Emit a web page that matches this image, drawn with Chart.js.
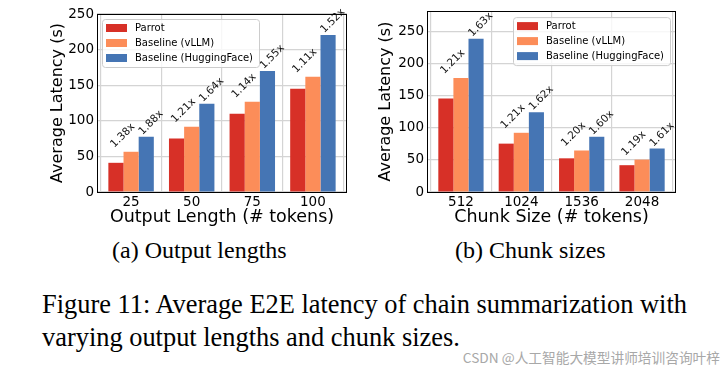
<!DOCTYPE html>
<html><head><meta charset="utf-8">
<script src="https://cdn.jsdelivr.net/npm/chart.js@4.4.1/dist/chart.umd.min.js"></script>
<style>
html,body{margin:0;padding:0;background:#fff;width:728px;height:372px;overflow:hidden;position:relative}
.c{position:absolute;top:0;width:364px;height:232px}
.cap{position:absolute;font-family:"Liberation Serif","Times New Roman",serif;color:#000;white-space:nowrap;line-height:1}
#wm{position:absolute;right:8px;top:351px;font-family:"Noto Sans CJK SC",sans-serif;font-size:13.7px;color:#a8a8a8;white-space:nowrap;line-height:1}
</style></head><body>
<div class="c" style="left:0"><canvas id="c1" width="364" height="232"></canvas></div>
<div class="c" style="left:364px"><canvas id="c2" width="364" height="232"></canvas></div>
<div class="cap" style="left:112px;top:238px;font-size:24px">(a) Output lengths</div>
<div class="cap" style="left:455px;top:238px;font-size:24px">(b) Chunk sizes</div>
<div class="cap" style="left:42px;top:291px;font-size:26.4px">Figure 11: Average E2E latency of chain summarization with</div>
<div class="cap" style="left:42px;top:324px;font-size:26.4px">varying output lengths and chunk sizes.</div>
<div id="wm">CSDN @人工智能大模型讲师培训咨询叶梓</div>
<script>
// ---- data ----
const seriesNames = ['Parrot', 'Baseline (vLLM)', 'Baseline (HuggingFace)'];
const seriesColors = ['#d73027', '#fc8d59', '#4575b4'];
const yTicks = [0, 50, 100, 150, 200, 250];

const outputLengths = ['25', '50', '75', '100'];
const outParrot = [41.0, 75.2, 109.8, 144.9];
const outVllm = [56.5, 91.6, 126.6, 161.7];
const outHF = [77.6, 123.8, 170.0, 220.6];
const outVllmSpeedup = ['1.38x', '1.21x', '1.14x', '1.11x'];
const outHFSpeedup = ['1.88x', '1.64x', '1.55x', '1.52x'];

const chunkSizes = ['512', '1024', '1536', '2048'];
const chunkParrot = [145.8, 75.4, 52.5, 41.8];
const chunkVllm = [177.9, 92.3, 64.7, 50.5];
const chunkHF = [239.0, 124.4, 86.1, 67.8];
const chunkVllmSpeedup = ['1.21x', '1.21x', '1.20x', '1.19x'];
const chunkHFSpeedup = ['1.63x', '1.62x', '1.60x', '1.61x'];

Chart.defaults.font.family = '"DejaVu Sans", sans-serif';
Chart.defaults.color = '#000';

const decor = {
  id: 'decor',
  afterDatasetsDraw(chart, args, opts) {
    const ctx = chart.ctx, a = chart.chartArea;
    ctx.save();
    // speedup annotations
    ctx.font = '10.5px "DejaVu Sans"';
    ctx.fillStyle = '#111';
    const asc = 0.73 * 10.5;
    [[1, opts.sp1, -9, 3.7], [2, opts.sp2, 4, 1.6]].forEach(([d, labels, dx, gap]) => {
      const meta = chart.getDatasetMeta(d);
      meta.data.forEach((el, i) => {
        const p = el.getProps(['x', 'y'], true);
        const t = labels[i];
        const L = ctx.measureText(t).width;
        const W = 0.7071 * (L + asc);
        const cx = p.x + dx;
        const ox = cx - W / 2 + 0.7071 * asc;
        const oy = p.y - gap;
        ctx.save();
        ctx.translate(ox, oy);
        ctx.rotate(-Math.PI / 4);
        ctx.textAlign = 'left';
        ctx.textBaseline = 'alphabetic';
        ctx.fillText(t, 0, 0);
        ctx.restore();
      });
    });
    // frame
    ctx.strokeStyle = '#000';
    ctx.lineWidth = 1;
    ctx.strokeRect(Math.round(a.left) + 0.5, Math.round(a.top) + 0.5,
      Math.round(a.right - a.left) - 1, Math.round(a.bottom - a.top));
    // legend
    const bw = 157, bh = 48;
    const bx = opts.corner === 'left' ? a.left + 5 : a.right - 6 - bw;
    const by = a.top + (opts.corner === 'left' ? 5 : 6);
    ctx.beginPath();
    ctx.roundRect(bx + 0.5, by + 0.5, bw, bh, 3);
    ctx.fillStyle = 'rgba(255,255,255,0.8)';
    ctx.fill();
    ctx.strokeStyle = '#cccccc';
    ctx.stroke();
    ctx.font = '10px "DejaVu Sans"';
    ctx.textBaseline = 'middle';
    ctx.textAlign = 'left';
    chart.data.datasets.forEach((ds, k) => {
      const cy = by + 9 + 15 * k;
      ctx.fillStyle = ds.backgroundColor;
      ctx.fillRect(bx + 4, cy - 4, 21, 8);
      ctx.fillStyle = '#000';
      ctx.fillText(ds.label, bx + 33, cy + 0.5);
    });
    ctx.restore();
  }
};

function makeChart(id, cats, values, sp1, sp2, yMax, pad, yWidth, xTitle, corner) {
  new Chart(document.getElementById(id), {
    type: 'bar',
    data: {
      datasets: values.map((vals, s) => ({
        label: seriesNames[s],
        backgroundColor: seriesColors[s],
        data: vals.map((v, i) => ({ x: i, y: v })),
        categoryPercentage: 0.75,
        barPercentage: 1.0,
        borderWidth: 0
      }))
    },
    options: {
      responsive: false,
      animation: false,
      layout: { padding: pad },
      plugins: { legend: { display: false }, tooltip: { enabled: false }, decor: { sp1, sp2, corner } },
      scales: {
        x: {
          type: 'linear',
          min: -0.5625, max: 3.5625,
          offset: false,
          afterBuildTicks: s => { s.ticks = cats.map((c, i) => ({ value: i })); },
          afterFit: s => { s.height = 40; },
          ticks: { autoSkip: false, maxRotation: 0, padding: 2, font: { size: 13.5 }, color: '#000',
                   callback: v => cats[v] },
          grid: { color: '#d4d4d4', lineWidth: 1.2, drawTicks: false },
          border: { display: false },
          title: { display: true, text: xTitle, font: { size: 17.5 }, color: '#000', padding: { top: 0, bottom: 4 } }
        },
        y: {
          min: 0, max: yMax,
          afterBuildTicks: s => { s.ticks = yTicks.map(v => ({ value: v })); },
          afterFit: s => { s.width = yWidth; },
          ticks: { padding: 3, font: { size: 13.5 }, color: '#000' },
          grid: { color: '#d4d4d4', lineWidth: 1.2, drawTicks: false },
          border: { display: false },
          title: { display: true, text: 'Average Latency (s)', font: { size: 16 }, color: '#000', padding: { top: 4, bottom: 4 } }
        }
      }
    },
    plugins: [decor]
  });
}

makeChart('c1', outputLengths, [outParrot, outVllm, outHF], outVllmSpeedup, outHFSpeedup, 250,
  { left: 44, right: 17, top: 14, bottom: 0 }, 53, 'Output Length (# tokens)', 'left');
makeChart('c2', chunkSizes, [chunkParrot, chunkVllm, chunkHF], chunkVllmSpeedup, chunkHFSpeedup, 282,
  { left: 8, right: 52, top: 7, bottom: 0 }, 55, 'Chunk Size (# tokens)', 'right');
</script>
</body></html>
